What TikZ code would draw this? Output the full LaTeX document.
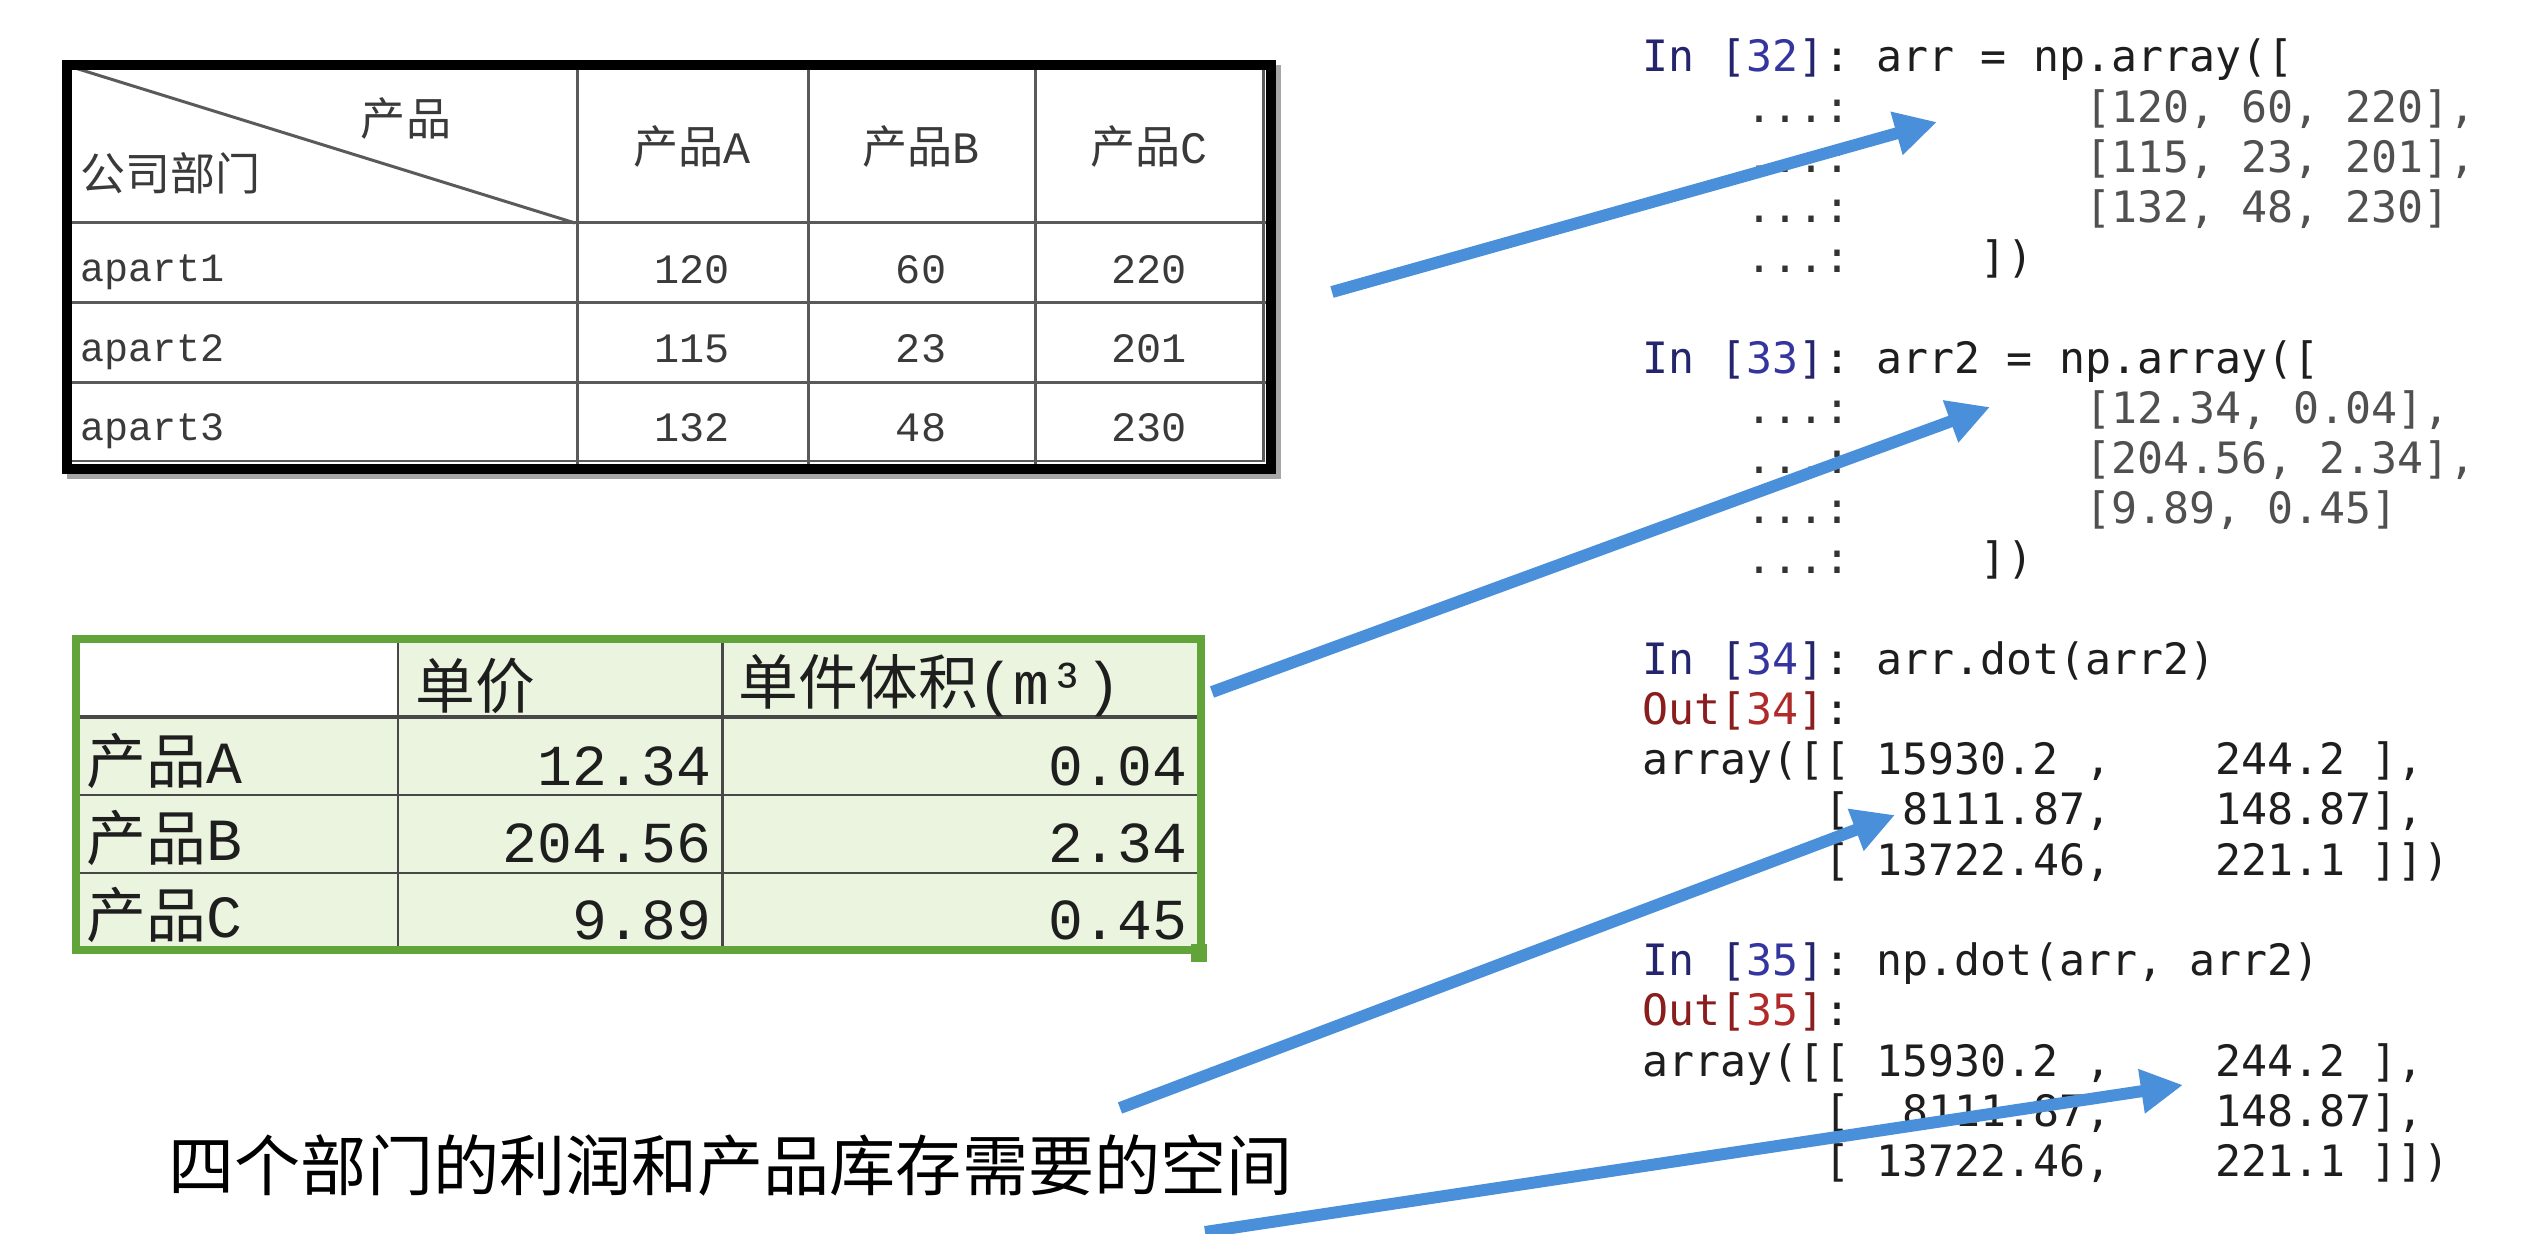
\documentclass[tikz,border=0pt]{standalone}
\usepackage{fontspec}
\usetikzlibrary{arrows.meta}
\newfontfamily\cjk{Noto Sans CJK SC}
\newfontfamily\lmono{Liberation Mono}
\newfontfamily\code{DejaVu Sans Mono}
\definecolor{arrowblue}{HTML}{4A8FDA}
\definecolor{tgray}{HTML}{3A3A3A}
\definecolor{gridgray}{HTML}{5A5A5A}
\definecolor{xlgreen}{HTML}{62A33A}
\definecolor{xlfill}{HTML}{EAF4DE}
\definecolor{pnavy}{HTML}{25256E}
\definecolor{pblue}{HTML}{3535A0}
\definecolor{pred}{HTML}{8A1E1E}
\definecolor{pred2}{HTML}{B02A2A}
\definecolor{codeblack}{HTML}{1E1E1E}
\definecolor{listgray}{HTML}{505050}
\definecolor{dotgray}{HTML}{333333}
\newcommand\inp[1]{\textcolor{pnavy}{In~[}\textcolor{pblue}{#1}\textcolor{pnavy}{]}:}
\newcommand\outp[1]{\textcolor{pred}{Out[}\textcolor{pred2}{#1}\textcolor{pred}{]}:}
\newcommand\cont{\textcolor{dotgray}{~~~~...:}}
\begin{document}
\begin{tikzpicture}[x=0.01cm,y=-0.01cm,
  tonecjk/.style={inner sep=0,text=tgray,font=\cjk\fontsize{12.8pt}{15pt}\selectfont},
  tonenum/.style={inner sep=0,text=tgray,font=\lmono\fontsize{11.9pt}{14pt}\selectfont},
  tonelab/.style={inner sep=0,text=tgray,anchor=base west,font=\lmono\fontsize{11.4pt}{14pt}\selectfont},
  ttwocjk/.style={inner sep=0,text=codeblack,font=\cjk\fontsize{17pt}{20pt}\selectfont},
  ttwonum/.style={inner sep=0,text=codeblack,anchor=east,font=\lmono\fontsize{16.5pt}{19pt}\selectfont},
  codeline/.style={inner sep=0,anchor=base west,text=codeblack,font=\code\fontsize{12.29pt}{14pt}\selectfont},
  bigarrow/.style={draw=arrowblue,line width=3.4pt,line cap=butt,-{Triangle[length=4.2mm,width=4.2mm]}},
  thingrid/.style={draw=gridgray,line width=0.85pt},
  greengrid/.style={draw=gridgray!80!black,line width=0.85pt}
]
\useasboundingbox (0,0) rectangle (2548,1234);
\fill[white] (0,0) rectangle (2548,1234);

% ---------- Table 1 ----------
\draw[black!35,line width=2.85pt] (72,70) rectangle (1276,474);
\fill[white] (67,65) rectangle (1271,469);
\draw[thingrid] (70,69) rectangle (1263,461);
\draw[thingrid] (70,223) -- (1266,223);
\draw[thingrid] (70,303) -- (1266,303);
\draw[thingrid] (70,383) -- (1266,383);
\draw[thingrid] (577,69) -- (577,464);
\draw[thingrid] (808,69) -- (808,464);
\draw[thingrid] (1035,69) -- (1035,464);
\draw[thingrid] (75,68) -- (575,223);
\draw[black,line width=2.85pt] (67,65) rectangle (1271,469);

\node[tonecjk] (hprod) at (406,119) {产品};
\node[tonecjk,anchor=west] (hdept) at (80,173) {公司部门};
\node[tonecjk] (hA) at (692,147) {产品{\lmono A}};
\node[tonecjk] (hB) at (921,147) {产品{\lmono B}};
\node[tonecjk] (hC) at (1149,147) {产品{\lmono C}};
\node[tonelab] (r1) at (80,282) {apart1};
\node[tonelab] (r2) at (80,362) {apart2};
\node[tonelab] (r3) at (80,441) {apart3};
\node[tonenum,anchor=base] (n11) at (692,284) {120};
\node[tonenum,anchor=base] (n12) at (921,284) {60};
\node[tonenum,anchor=base] (n13) at (1149,284) {220};
\node[tonenum,anchor=base] (n21) at (692,363) {115};
\node[tonenum,anchor=base] (n22) at (921,363) {23};
\node[tonenum,anchor=base] (n23) at (1149,363) {201};
\node[tonenum,anchor=base] (n31) at (692,442) {132};
\node[tonenum,anchor=base] (n32) at (921,442) {48};
\node[tonenum,anchor=base] (n33) at (1149,442) {230};

% ---------- Table 2 ----------
\fill[xlfill] (76,639) rectangle (1201,950);
\fill[white] (78,641) rectangle (398,717);
\draw[greengrid] (76,795) -- (1201,795);
\draw[greengrid] (76,873) -- (1201,873);
\draw[draw=gridgray!80!black,line width=1.4pt] (76,717) -- (1201,717);
\draw[greengrid] (398,639) -- (398,950);
\draw[greengrid] (722,639) -- (722,950);
\draw[xlgreen,line width=2.3pt] (76,639) rectangle (1201,950);
\fill[xlgreen] (1191,944) rectangle (1207,962);

\node[ttwocjk,anchor=west] (hprice) at (415,686) {单价};
\node[ttwocjk,anchor=west] (hvol) at (738,686) {单件体积{\lmono (m³)}};
\node[ttwocjk,anchor=west] (pA) at (86,761) {产品{\lmono A}};
\node[ttwocjk,anchor=west] (pB) at (86,838) {产品{\lmono B}};
\node[ttwocjk,anchor=west] (pC) at (86,915) {产品{\lmono C}};
\node[ttwonum] (vA1) at (712,766) {12.34};
\node[ttwonum] (vB1) at (712,843) {204.56};
\node[ttwonum] (vC1) at (712,920) {9.89};
\node[ttwonum] (vA2) at (1188,766) {0.04};
\node[ttwonum] (vB2) at (1188,843) {2.34};
\node[ttwonum] (vC2) at (1188,920) {0.45};

% ---------- Bottom caption ----------
\node[inner sep=0,anchor=west,text=black,font=\cjk\fontsize{18.8pt}{22pt}\selectfont] (caption) at (168,1165) {四个部门的利润和产品库存需要的空间};

% ---------- Code ----------
\node[codeline] (c0) at (1642,72) {\inp{32}~arr~=~np.array([};
\node[codeline] (c1) at (1642,122.2) {\cont~~~~~~~~~\textcolor{listgray}{[120,~60,~220],}};
\node[codeline] (c2) at (1642,172.4) {\cont~~~~~~~~~\textcolor{listgray}{[115,~23,~201],}};
\node[codeline] (c3) at (1642,222.6) {\cont~~~~~~~~~\textcolor{listgray}{[132,~48,~230]}};
\node[codeline] (c4) at (1642,272.8) {\cont~~~~~])};

\node[codeline] (c6) at (1642,373.2) {\inp{33}~arr2~=~np.array([};
\node[codeline] (c7) at (1642,423.4) {\cont~~~~~~~~~\textcolor{listgray}{[12.34,~0.04],}};
\node[codeline] (c8) at (1642,473.6) {\cont~~~~~~~~~\textcolor{listgray}{[204.56,~2.34],}};
\node[codeline] (c9) at (1642,523.8) {\cont~~~~~~~~~\textcolor{listgray}{[9.89,~0.45]}};
\node[codeline] (c10) at (1642,574) {\cont~~~~~])};

\node[codeline] (c12) at (1642,674.4) {\inp{34}~arr.dot(arr2)};
\node[codeline] (c13) at (1642,724.6) {\outp{34}};
\node[codeline] (c14) at (1642,774.8) {array([[~15930.2~,~~~~244.2~],};
\node[codeline] (c15) at (1642,825) {~~~~~~~[~~8111.87,~~~~148.87],};
\node[codeline] (c16) at (1642,875.2) {~~~~~~~[~13722.46,~~~~221.1~]])};

\node[codeline] (c18) at (1642,975.6) {\inp{35}~np.dot(arr,~arr2)};
\node[codeline] (c19) at (1642,1025.8) {\outp{35}};
\node[codeline] (c20) at (1642,1076) {array([[~15930.2~,~~~~244.2~],};
\node[codeline] (c21) at (1642,1126.2) {~~~~~~~[~~8111.87,~~~~148.87],};
\node[codeline] (c22) at (1642,1176.4) {~~~~~~~[~13722.46,~~~~221.1~]])};

% ---------- Arrows ----------
\coordinate (a1s) at (1332,292);
\coordinate (a1e) at (1937,122);
\coordinate (a2s) at (1212,692);
\coordinate (a2e) at (1990,407);
\coordinate (a3s) at (1120,1108);
\coordinate (a3e) at (1895,815);
\coordinate (a4s) at (1205,1232);
\coordinate (a4e) at (2183,1085);
\draw[bigarrow] (a1s) -- (a1e);
\draw[bigarrow] (a2s) -- (a2e);
\draw[bigarrow] (a3s) -- (a3e);
\draw[bigarrow] (a4s) -- (a4e);
\end{tikzpicture}
\end{document}
